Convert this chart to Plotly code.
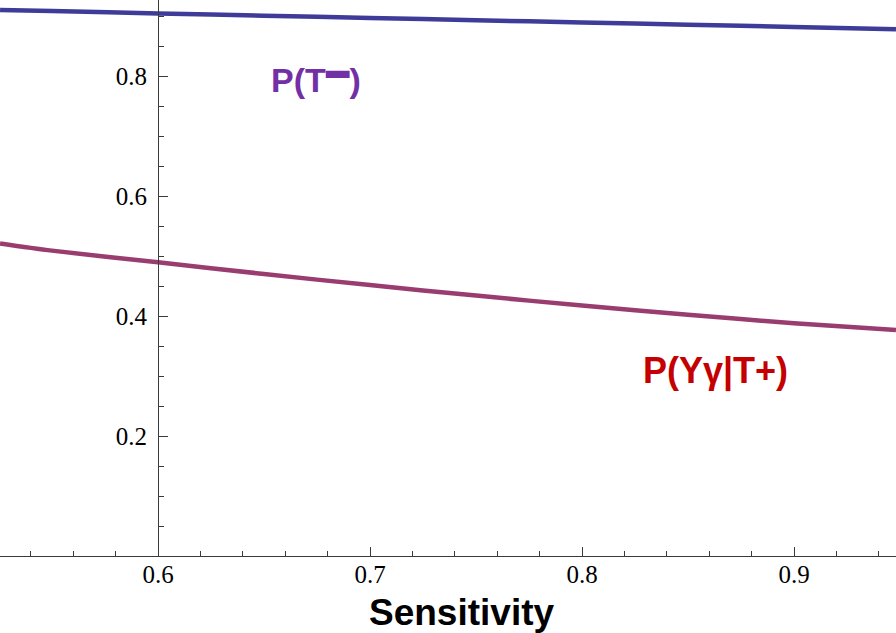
import plotly.graph_objects as go

# Data
sens = [0.5255, 0.55, 0.60, 0.65, 0.70, 0.75, 0.80, 0.85, 0.90, 0.9481]
p_tneg = [0.9100, 0.9082, 0.9044, 0.9006, 0.8968, 0.8930, 0.8892, 0.8855, 0.8817, 0.8780]
p_ypos = [0.5210, 0.5090, 0.4895, 0.4700, 0.4515, 0.4340, 0.4175, 0.4020, 0.3880, 0.3765]

x_ticks = [0.6, 0.7, 0.8, 0.9]
y_ticks = [0.2, 0.4, 0.6, 0.8]

x_range = [0.52547, 0.94811]
y_range = [0.0, 0.9267]
y_cross = 0.6

fig = go.Figure()
fig.add_trace(go.Scatter(x=sens, y=p_tneg, mode="lines",
                         line=dict(color="#3E3C98", width=4.5, shape="spline", smoothing=0.8),
                         showlegend=False))
fig.add_trace(go.Scatter(x=sens, y=p_ypos, mode="lines",
                         line=dict(color="#993D70", width=4.5, shape="spline", smoothing=0.8),
                         showlegend=False))

axis_color = "#3a3a3a"
tick_font = dict(family="Liberation Serif, Times New Roman, serif", size=25, color="black")

fig.update_layout(
    width=896, height=633,
    margin=dict(l=0, r=0, t=0, b=77),
    paper_bgcolor="white", plot_bgcolor="white",
    font=dict(family="Liberation Serif, serif", size=25, color="black"),
    annotations=[
        dict(x=0.6746, y=0.797, xref="x", yref="y", showarrow=False,
             text="<b>P(T<sup>▬</sup>)</b>",
             font=dict(family="Liberation Sans, Arial, sans-serif", size=34, color="#7330A6")),
        dict(x=0.8628, y=0.309, xref="x", yref="y", showarrow=False,
             text="<b>P(Yγ|T+)</b>",
             font=dict(family="Liberation Sans, Arial, sans-serif", size=36, color="#C40000")),
        dict(x=461.5 / 896, y=-0.101, xref="paper", yref="paper", showarrow=False,
             yanchor="middle", text="<b>Sensitivity</b>",
             font=dict(family="Liberation Sans, Arial, sans-serif", size=37, color="black")),
    ],
)

fig.update_xaxes(
    range=x_range, showgrid=False, zeroline=False,
    showline=True, linecolor=axis_color, linewidth=1.2,
    tickmode="array", tickvals=x_ticks, ticktext=[str(v) for v in x_ticks],
    ticks="inside", ticklen=9, tickcolor=axis_color, tickwidth=1,
    tickfont=tick_font, ticklabelstandoff=-4,
    minor=dict(tickmode="linear", tick0=0.0, dtick=0.02, ticks="inside",
               ticklen=5, tickcolor=axis_color, tickwidth=1, showgrid=False),
    anchor="y", fixedrange=True,
)
fig.update_yaxes(
    range=y_range, showgrid=False, zeroline=False,
    showline=True, linecolor=axis_color, linewidth=1.2,
    tickmode="array", tickvals=y_ticks, ticktext=[str(v) for v in y_ticks],
    ticks="inside", ticklen=9, tickcolor=axis_color, tickwidth=1,
    tickfont=tick_font, ticklabelstandoff=6,
    minor=dict(tickmode="linear", tick0=0.0, dtick=0.05, ticks="inside",
               ticklen=5, tickcolor=axis_color, tickwidth=1, showgrid=False),
    anchor="free",
    position=(y_cross - x_range[0]) / (x_range[1] - x_range[0]),
    automargin=False, fixedrange=True,
)

fig.write_html("out.html")
